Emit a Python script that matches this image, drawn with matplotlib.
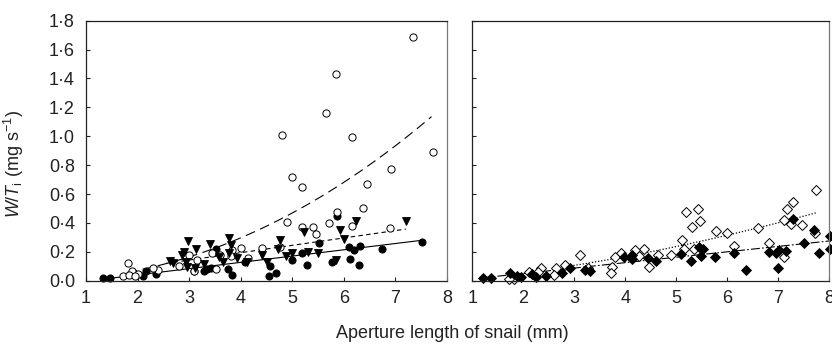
import numpy as np
import matplotlib
matplotlib.use("Agg")
import matplotlib.pyplot as plt

plt.rcParams['font.family'] = ['Liberation Sans', 'DejaVu Sans']
plt.rcParams['mathtext.fontset'] = 'custom'
plt.rcParams['mathtext.rm'] = 'Liberation Sans'
plt.rcParams['mathtext.it'] = 'Liberation Sans:italic'

# left panel - open circles
open_circ_x = [7.34, 5.84, 5.66, 4.80, 6.16, 7.72, 6.92, 4.99, 5.18, 6.45, 6.38, 5.86, 4.90, 5.72,
               5.18, 5.41, 5.46, 6.16, 6.90, 4.77, 4.42, 4.01, 3.84, 3.81, 4.15, 3.60, 3.44, 3.53,
               3.00, 3.16, 2.80, 3.10, 2.40, 2.29, 1.81, 1.90, 1.72, 1.84, 2.00, 1.95]
open_circ_y = [1.686, 1.43, 1.16, 1.01, 0.995, 0.893, 0.771, 0.718, 0.651, 0.667, 0.50, 0.474, 0.404, 0.40,
               0.374, 0.372, 0.323, 0.381, 0.365, 0.235, 0.224, 0.229, 0.213, 0.171, 0.155, 0.178, 0.19, 0.079,
               0.176, 0.141, 0.104, 0.069, 0.074, 0.086, 0.12, 0.067, 0.03, 0.04, 0.045, 0.03]

# left panel - filled triangles
tri_x = [2.98, 3.40, 3.78, 3.81, 3.13, 2.90, 2.87, 2.63, 2.69, 2.93, 2.96, 3.28, 3.58, 3.66, 3.77,
         3.93, 4.13, 4.42, 4.51, 4.73, 4.77, 4.88, 5.00, 5.22, 5.30, 5.50, 5.92, 6.01, 6.23, 7.20,
         5.84, 3.11]
tri_y = [0.273, 0.254, 0.298, 0.25, 0.217, 0.20, 0.18, 0.139, 0.12, 0.13, 0.097, 0.115, 0.164, 0.13, 0.19,
         0.155, 0.128, 0.18, 0.13, 0.222, 0.284, 0.17, 0.195, 0.335, 0.20, 0.19, 0.351, 0.291, 0.415, 0.415,
         0.146, 0.09]

# left panel - filled circles
fill_circ_x = [1.32, 1.47, 2.11, 2.17, 2.35, 3.10, 3.34, 3.42, 3.53, 3.76, 3.84, 4.09, 4.55, 4.57,
               4.68, 4.99, 5.19, 5.29, 5.52, 5.77, 5.86, 6.10, 6.19, 6.32, 6.12, 6.30, 6.74, 7.52, 3.28]
fill_circ_y = [0.02, 0.02, 0.035, 0.065, 0.045, 0.065, 0.08, 0.087, 0.22, 0.08, 0.04, 0.13, 0.03, 0.10,
               0.05, 0.14, 0.195, 0.11, 0.259, 0.13, 0.448, 0.235, 0.21, 0.24, 0.15, 0.11, 0.22, 0.27, 0.07]

# right panel - open diamonds
open_dia_x = [7.74, 7.29, 7.17, 7.11, 7.25, 7.47, 7.71, 7.11, 6.81, 6.60, 6.13, 5.99, 5.78, 5.43,
              5.19, 5.47, 5.31, 5.11, 5.15, 5.35, 4.90, 4.65, 4.47, 4.37, 4.26, 4.19, 3.91, 3.80,
              3.73, 3.71, 3.11, 2.82, 2.65, 2.60, 2.34, 2.29, 2.11, 1.82, 1.71, 3.27]
open_dia_y = [0.626, 0.547, 0.496, 0.419, 0.39, 0.385, 0.328, 0.165, 0.26, 0.363, 0.243, 0.328, 0.344, 0.496,
              0.475, 0.412, 0.375, 0.28, 0.22, 0.22, 0.18, 0.18, 0.093, 0.22, 0.17, 0.21, 0.19, 0.165,
              0.095, 0.05, 0.18, 0.107, 0.085, 0.04, 0.09, 0.06, 0.06, 0.01, 0.01, 0.085]

# right panel - filled diamonds
fill_dia_x = [1.20, 1.36, 1.74, 1.88, 1.96, 2.18, 2.25, 2.45, 2.75, 2.92, 3.21, 3.31, 3.97, 4.14,
              4.13, 4.44, 4.60, 5.10, 5.29, 5.45, 5.53, 5.49, 5.75, 6.13, 6.37, 6.82, 6.96, 7.02,
              7.15, 6.99, 7.29, 7.51, 7.70, 7.79, 8.01, 8.01]
fill_dia_y = [0.019, 0.02, 0.05, 0.03, 0.025, 0.045, 0.025, 0.03, 0.05, 0.085, 0.077, 0.065, 0.165, 0.175,
              0.15, 0.16, 0.135, 0.185, 0.135, 0.23, 0.22, 0.17, 0.165, 0.195, 0.077, 0.20, 0.19, 0.215,
              0.205, 0.085, 0.43, 0.26, 0.35, 0.195, 0.31, 0.22]

# fitted curves
fit_open_circ = (0.0173, 2.05, 1.8, 7.7)      # a * x**b, x range
fit_tri = (0.051, -0.010, 2.55, 7.2)          # slope, intercept, x range
fit_fill_circ = (0.0435, -0.047, 1.3, 7.52)
fit_open_dia = (0.0189, 1.57, 2.8, 7.74)
fit_fill_dia = (0.0375, -0.025, 1.2, 8.0)

yticks = np.arange(0, 1.81, 0.2)
ytick_labels = ['%.1f' % v for v in yticks]
ytick_labels = [s.replace('.', '\u00b7') for s in ytick_labels]
xticks = [1, 2, 3, 4, 5, 6, 7, 8]

fig = plt.figure(figsize=(8.32, 3.44), dpi=100)
ax1 = fig.add_axes([86/832, 1-280.7/344, 361/832, 260/344])
ax2 = fig.add_axes([472.3/832, 1-280.7/344, 357/832, 260/344])

for ax in (ax1, ax2):
    ax.set_xlim(1, 8)
    ax.set_ylim(0, 1.8)
    ax.set_xticks(xticks)
    ax.set_xticklabels([str(v) for v in xticks])
    ax.set_yticks(yticks)
    ax.tick_params(direction='in', length=3, width=0.8, labelsize=13, colors='#222222')
    ax.tick_params(axis='x', pad=7)
    ax.tick_params(axis='y', pad=8)
    for s in ('left', 'bottom', 'top'):
        ax.spines[s].set_color('#222222')
        ax.spines[s].set_linewidth(0.9)
    ax.spines['right'].set_color('#777777')
    ax.spines['right'].set_linewidth(0.9)

ax1.set_yticklabels(ytick_labels)
ax2.set_yticklabels([])

# left panel
xx = np.linspace(fit_open_circ[2], fit_open_circ[3], 200)
ax1.plot(xx, fit_open_circ[0] * xx ** fit_open_circ[1], color='black', lw=0.8, dashes=(9, 5))
xx = np.linspace(fit_tri[2], fit_tri[3], 50)
ax1.plot(xx, fit_tri[0] * xx + fit_tri[1], color='black', lw=0.8, dashes=(4, 3))
xx = np.linspace(fit_fill_circ[2], fit_fill_circ[3], 50)
ax1.plot(xx, fit_fill_circ[0] * xx + fit_fill_circ[1], color='black', lw=0.8)

ax1.plot(fill_circ_x, fill_circ_y, 'o', ms=5.2, mfc='black', mec='black', mew=0.6, clip_on=False)
ax1.plot(open_circ_x, open_circ_y, 'o', ms=5.2, mfc='white', mec='black', mew=0.7, clip_on=False)
ax1.plot(tri_x, tri_y, 'v', ms=6, mfc='black', mec='black', mew=0.6, clip_on=False)

# right panel
xx = np.linspace(fit_open_dia[2], fit_open_dia[3], 200)
ax2.plot(xx, fit_open_dia[0] * xx ** fit_open_dia[1], color='black', lw=0.9, ls=(0, (1, 1.5)))
xx = np.linspace(fit_fill_dia[2], fit_fill_dia[3], 50)
ax2.plot(xx, fit_fill_dia[0] * xx + fit_fill_dia[1], color='black', lw=0.8, ls=(0, (8, 2, 1.5, 2)))

ax2.plot(open_dia_x, open_dia_y, 'D', ms=4.6, mfc='white', mec='black', mew=0.7, clip_on=False)
ax2.plot(fill_dia_x, fill_dia_y, 'D', ms=4.6, mfc='black', mec='black', mew=0.6, clip_on=False)

ax1.set_ylabel(r'$W$/$T_\mathrm{i}$ (mg s$^{-1}$)', fontsize=13, color='#222222')
ax1.yaxis.set_label_coords(-0.165, 0.45)

fig.text(452/832, 1-333/344, 'Aperture length of snail (mm)', fontsize=13,
         ha='center', va='center', color='#222222')

fig.savefig('out.png', dpi=100)
